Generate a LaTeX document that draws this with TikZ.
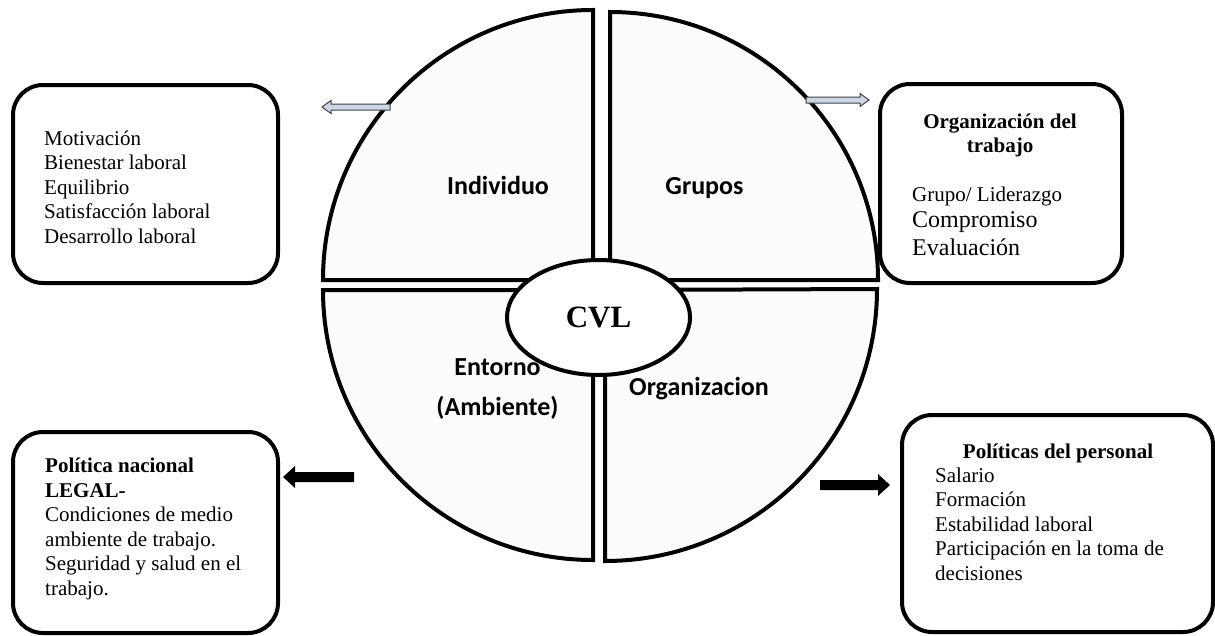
\documentclass[tikz,border=0pt]{standalone}
\usepackage{fontspec}
\setmainfont{Liberation Serif}
\newfontfamily\labfont{Carlito}
\usetikzlibrary{shapes.geometric,calc}
\definecolor{qfill}{HTML}{FCFCFC}
\definecolor{harrfill}{HTML}{CDD6E6}
\tikzset{
  quarter/.style={draw=black,line width=4pt,fill=qfill,line join=miter},
  box/.style={draw=black,line width=4pt,fill=white,rounded corners=30pt,inner sep=0pt},
  txt/.style={inner sep=0pt,align=left,font=\fontsize{21}{24.5}\selectfont},
  lab/.style={inner sep=0pt,font=\labfont\bfseries\fontsize{26}{30}\selectfont},
  harr/.style={draw=black!75,line width=1pt,fill=harrfill,line join=miter},
  barr/.style={fill=black}
}
\begin{document}
\begin{tikzpicture}[x=1pt,y=1pt]
\useasboundingbox (0,0) rectangle (1215,-635);
% quarters
\draw[quarter] (593,-280) -- (323,-280) arc[start angle=180,end angle=90,radius=270pt] -- cycle;
\draw[quarter] (610,-280) -- (610,-12) arc[start angle=90,end angle=0,radius=268pt] -- cycle;
\draw[quarter] (593,-290) -- (323,-290) arc[start angle=180,end angle=270,radius=270pt] -- cycle;
\draw[quarter] (605,-290) -- (605,-561) arc[start angle=270,end angle=360,radius=272pt] -- cycle;
% quarter labels
\node[lab,anchor=base] (ind) at (498,-194) {Individuo};
\node[lab,anchor=base] (gru) at (704.5,-194) {Grupos};
\node[lab,anchor=base] (ent) at (497.5,-375) {Entorno};
\node[lab,anchor=base] (amb) at (497.5,-415) {(Ambiente)};
\node[lab,anchor=base] (org) at (699,-395) {Organizacion};
% centre ellipse
\node[ellipse,draw=black,line width=4pt,fill=white,minimum width=183pt,minimum height=115pt,inner sep=0pt,
      font=\bfseries\fontsize{31}{34}\selectfont] (cvl) at (598.5,-317.5) {\raisebox{-2pt}{CVL}};
% boxes
\node[box,minimum width=265pt,minimum height=198pt] (b1) at (145.5,-184) {};
\node[box,minimum width=242pt,minimum height=199pt] (b2) at (1001,-183.5) {};
\node[box,minimum width=265pt,minimum height=201pt] (b3) at (145.5,-532.5) {};
\node[box,minimum width=311pt,minimum height=217pt] (b4) at (1057.5,-523.5) {};
% box texts (base anchor = baseline of last line)
\node[txt,anchor=base west] (t1) at (44,-243) {Motivación\\Bienestar laboral\\Equilibrio\\Satisfacción laboral\\Desarrollo laboral};
\node[txt,anchor=base,align=center,font=\bfseries\fontsize{21}{24}\selectfont] (t2a) at (1000,-152) {Organización del\\trabajo};
\node[txt,anchor=base west] (t2b) at (912,-201) {Grupo/ Liderazgo};
\node[txt,anchor=base west,font=\fontsize{24}{28}\selectfont] (t2c) at (912,-227) {Compromiso};
\node[txt,anchor=base west,font=\fontsize{24}{28}\selectfont] (t2d) at (912,-255) {Evaluación};
\node[txt,anchor=base west] (t3) at (45,-595) {\textbf{Política nacional}\\\textbf{LEGAL-}\\Condiciones de medio\\ambiente de trabajo.\\Seguridad y salud en el\\trabajo.};
\node[txt,anchor=base,font=\bfseries\fontsize{21}{24}\selectfont] (t4a) at (1058,-458) {Políticas del personal};
\node[txt,anchor=base west] (t4b) at (935,-580) {Salario\\Formación\\Estabilidad laboral\\Participación en la toma de\\decisiones};
% arrow end points
\coordinate (a1s) at (390,-107);
\coordinate (a1e) at (322,-107);
\coordinate (a2s) at (806,-100);
\coordinate (a2e) at (869,-100);
\coordinate (a3s) at (354,-477);
\coordinate (a3e) at (283,-477);
\coordinate (a4s) at (820,-485);
\coordinate (a4e) at (890,-485);
% hollow arrows
\draw[harr] (a1e) -- ++(9,6.5) -- ++(0,-3.5) -- ($(a1s)+(0,3)$) -- ($(a1s)+(0,-3)$) -- ($(a1e)+(9,-3)$) -- ++(0,-3.5) -- cycle;
\draw[harr] (a2e) -- ++(-9,6.5) -- ++(0,-3.5) -- ($(a2s)+(0,3)$) -- ($(a2s)+(0,-3)$) -- ($(a2e)+(-9,-3)$) -- ++(0,-3.5) -- cycle;
% black arrows
\fill[barr] (a3e) -- ++(12,11) -- ++(0,-6) -- ($(a3s)+(0,5)$) -- ($(a3s)+(0,-5)$) -- ($(a3e)+(12,-5)$) -- ++(0,-6) -- cycle;
\fill[barr] (a4e) -- ++(-12,11) -- ++(0,-6) -- ($(a4s)+(0,5)$) -- ($(a4s)+(0,-5)$) -- ($(a4e)+(-12,-5)$) -- ++(0,-6) -- cycle;
\end{tikzpicture}
\end{document}
